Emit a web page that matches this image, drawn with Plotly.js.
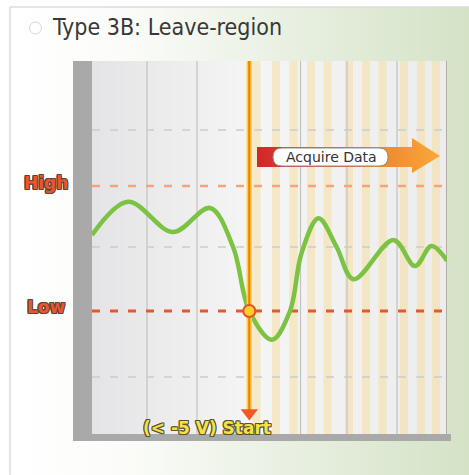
<!DOCTYPE html>
<html>
<head>
<meta charset="utf-8">
<script src="https://cdn.plot.ly/plotly-3.0.1.min.js"></script>
<style>html,body{margin:0;padding:0;background:#fff;}#chart{width:469px;height:475px;}</style>
</head>
<body>
<div id="chart"></div>
<script>
// ---- data (time in arbitrary units, voltage in V) ----
const chartTitle = "Type 3B: Leave-region";
const curveTime = [0, 0.72, 1.62, 2.36, 2.82, 3.146, 3.6, 3.96, 4.19, 4.53, 4.89, 5.23, 6.03, 6.46, 6.79, 7.1];
const curveVolt = [1.08, 3.74, 1.32, 3.24, 0.14, -5.0, -7.3, -5.0, -0.38, 2.42, 0.14, -2.46, 0.68, -1.4, 0.2, -0.98];
const highLevel = 5;
const lowLevel = -5;
const triggerTime = 3.146;
const gridVolts = [9.48, 0.12, -10.28];
const gridTimes = [1.1, 2.1, 4.17, 5.1, 6.1];
const levelLabels = ["High", "Low"];
const startLabel = "(< -5 V) Start";
const acquireLabel = "Acquire Data";

// ---- layout helpers ----
const W = 469, H = 475;
const PL = 92, PR = 447, PT = 61, PB = 434;
const xRange = [0, 7.1], yRange = [-14.84, 15];
const tx = px => xRange[0] + (px - PL) / (PR - PL) * (xRange[1] - xRange[0]);
const vy = py => yRange[1] - (py - PT) / (PB - PT) * (yRange[1] - yRange[0]);

const traces = [];
// card background (page pixel subplot)
traces.push({
  x: [10, 490, 490, 10, 10], y: [7, 7, 490, 490, 7], xaxis: 'x', yaxis: 'y',
  mode: 'lines', line: {width: 0}, fill: 'toself', hoverinfo: 'skip',
  fillgradient: {type: 'horizontal', start: 10, stop: 469,
    colorscale: [[0, '#ffffff'], [0.25, '#fbfcf9'], [0.6, '#e9f0e2'], [1, '#d4e2c6']]}
});
// plot background
traces.push({
  x: [PL, PR, PR, PL, PL], y: [PT, PT, PB, PB, PT], xaxis: 'x', yaxis: 'y',
  mode: 'lines', line: {width: 0}, fill: 'toself', hoverinfo: 'skip',
  fillgradient: {type: 'horizontal', start: PL, stop: PR,
    colorscale: [[0, '#e4e4e6'], [0.45, '#f5f5f5'], [1, '#ececec']]}
});
// signal curve
traces.push({
  x: curveTime, y: curveVolt, xaxis: 'x2', yaxis: 'y2', mode: 'lines',
  line: {color: '#7cc243', width: 4.5, shape: 'spline', smoothing: 1}, hoverinfo: 'skip'
});
// acquire data arrow
const ax = [257, 412, 412, 440, 412, 412, 257, 257].map(tx);
const ay = [147, 147, 138, 156, 173, 167, 167, 147].map(vy);
traces.push({
  x: ax, y: ay, xaxis: 'x2', yaxis: 'y2', mode: 'lines', line: {width: 0},
  fill: 'toself', hoverinfo: 'skip',
  fillgradient: {type: 'horizontal', start: tx(257), stop: tx(440),
    colorscale: [[0, '#d3262a'], [0.3, '#e5482b'], [0.7, '#f08a2e'], [1, '#f8a83a']]}
});
// trigger line
traces.push({x: [triggerTime, triggerTime], y: [yRange[1], vy(410)], xaxis: 'x2', yaxis: 'y2',
  mode: 'lines', line: {color: '#ffd23f', width: 5.5}, hoverinfo: 'skip'});
traces.push({x: [triggerTime, triggerTime], y: [yRange[1], vy(410)], xaxis: 'x2', yaxis: 'y2',
  mode: 'lines', line: {color: '#f08000', width: 2.2}, hoverinfo: 'skip'});
traces.push({x: [triggerTime], y: [vy(413)], xaxis: 'x2', yaxis: 'y2', mode: 'markers',
  marker: {symbol: 'triangle-down', size: 15, color: '#f05a24'}, hoverinfo: 'skip'});
// trigger point
traces.push({x: [triggerTime], y: [lowLevel], xaxis: 'x2', yaxis: 'y2', mode: 'markers',
  marker: {symbol: 'circle', size: 12, color: '#ffd02a', line: {color: '#e8502a', width: 2}}, hoverinfo: 'skip'});

const shapes = [];
// stripes after trigger
const stripeCentersPx = [256.5, 276, 293.5, 311, 327.5, 349, 366, 382.5, 404, 421, 436];
stripeCentersPx.forEach(c => shapes.push({type: 'rect', xref: 'x2', yref: 'y2', layer: 'below',
  x0: tx(c - 4), x1: tx(c + 4), y0: yRange[0], y1: yRange[1],
  fillcolor: '#f6dfa0', opacity: 0.55, line: {width: 0}}));
// vertical grid
gridTimes.forEach(t => shapes.push({type: 'line', xref: 'x2', yref: 'y2', layer: 'below',
  x0: t, x1: t, y0: yRange[0], y1: yRange[1], line: {color: '#c4c2be', width: 1.2}}));
shapes.push({type: 'line', xref: 'x2', yref: 'y2', layer: 'below',
  x0: xRange[1], x1: xRange[1], y0: yRange[0], y1: yRange[1], line: {color: '#b3ada3', width: 2}});
// horizontal grid
gridVolts.forEach(v => shapes.push({type: 'line', xref: 'x2', yref: 'y2', layer: 'below',
  x0: xRange[0], x1: xRange[1], y0: v, y1: v, line: {color: '#cbcbcb', width: 1.5, dash: '8px,10px'}}));
shapes.push({type: 'line', xref: 'x2', yref: 'y2', layer: 'below',
  x0: xRange[0], x1: xRange[1], y0: highLevel, y1: highLevel, line: {color: '#f3a47e', width: 2.5, dash: '8px,10px'}});
shapes.push({type: 'line', xref: 'x2', yref: 'y2', layer: 'below',
  x0: xRange[0], x1: xRange[1], y0: lowLevel, y1: lowLevel, line: {color: '#e8562a', width: 3, dash: '8px,10px'}});
// frame bars
shapes.push({type: 'rect', xref: 'x', yref: 'y', layer: 'above', x0: 73, x1: PL, y0: PT, y1: 441,
  fillcolor: '#a9a9a9', line: {width: 0}});
shapes.push({type: 'rect', xref: 'x', yref: 'y', layer: 'above', x0: 80, x1: 451, y0: PB, y1: 441,
  fillcolor: '#a9a9a9', line: {width: 0}});
// card border (left and top edges)
shapes.push({type: 'line', xref: 'x', yref: 'y', layer: 'above', x0: 10, x1: 10, y0: 7, y1: 475,
  line: {color: '#dcdcdc', width: 1.5}});
shapes.push({type: 'line', xref: 'x', yref: 'y', layer: 'above', x0: 10, x1: 469, y0: 7, y1: 7,
  line: {color: '#dcdcdc', width: 1.5}});
// title bullet
shapes.push({type: 'circle', xref: 'x', yref: 'y', layer: 'above', x0: 29.5, x1: 41.5, y0: 22, y1: 34,
  fillcolor: '#ffffff', line: {color: '#d6d6d6', width: 1}});
// label box
shapes.push({type: 'path', xref: 'x', yref: 'y', layer: 'above',
  path: 'M 282,148 H 379 Q 388,148 388,157 Q 388,166 379,166 H 282 Q 273,166 273,157 Q 273,148 282,148 Z',
  fillcolor: '#ffffff', line: {color: '#8f8f8f', width: 1}});

const outline = c => `-1px -1px 0 ${c}, 1px -1px 0 ${c}, -1px 1px 0 ${c}, 1px 1px 0 ${c}, 0 1px 0 ${c}, 0 -1px 0 ${c}, 1px 0 0 ${c}, -1px 0 0 ${c}`;
const annotations = [
  {xref: 'x', yref: 'y', x: 46, y: 183, text: levelLabels[0], showarrow: false,
    font: {family: 'DejaVu Sans', size: 17, weight: 'bold', color: '#e8562a', shadow: outline('#574740')}},
  {xref: 'x', yref: 'y', x: 46, y: 307, text: levelLabels[1], showarrow: false,
    font: {family: 'DejaVu Sans', size: 17, weight: 'bold', color: '#e8562a', shadow: outline('#574740')}},
  {xref: 'x', yref: 'y', x: 207, y: 428, text: startLabel, showarrow: false,
    font: {family: 'DejaVu Sans', size: 17, weight: 'bold', color: '#f5e04a', shadow: outline('#5a5230')}},
  {xref: 'x', yref: 'y', x: 331, y: 157, text: acquireLabel, showarrow: false,
    font: {family: 'DejaVu Sans', size: 14, color: '#333333'}}
];

const hidden = {visible: false, showgrid: false, zeroline: false, fixedrange: true};
const layout = {
  width: W, height: H, margin: {l: 0, r: 0, t: 0, b: 0},
  paper_bgcolor: '#ffffff', plot_bgcolor: 'rgba(0,0,0,0)', showlegend: false,
  title: {text: chartTitle, xref: 'container', yref: 'container', x: 53 / W, xanchor: 'left',
    y: 1 - 27 / H, yanchor: 'middle',
    font: {family: 'DejaVu Sans Condensed, DejaVu Sans', size: 23, color: '#383838'}},
  xaxis: Object.assign({domain: [0, 1], range: [0, W], anchor: 'y'}, hidden),
  yaxis: Object.assign({domain: [0, 1], range: [H, 0], anchor: 'x'}, hidden),
  xaxis2: Object.assign({domain: [PL / W, PR / W], range: xRange, anchor: 'y2'}, hidden),
  yaxis2: Object.assign({domain: [1 - PB / H, 1 - PT / H], range: yRange, anchor: 'x2'}, hidden),
  shapes: shapes, annotations: annotations
};
Plotly.newPlot('chart', traces, layout, {staticPlot: true, displayModeBar: false});
</script>
</body>
</html>
